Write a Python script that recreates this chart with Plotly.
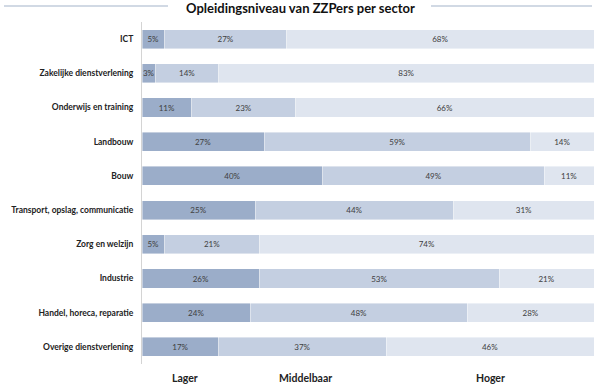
import plotly.graph_objects as go

sectors = ["ICT", "Zakelijke dienstverlening", "Onderwijs en training", "Landbouw", "Bouw",
           "Transport, opslag, communicatie", "Zorg en welzijn", "Industrie",
           "Handel, horeca, reparatie", "Overige dienstverlening"]
lager = [5, 3, 11, 27, 40, 25, 5, 26, 24, 17]
middelbaar = [27, 14, 23, 59, 49, 44, 21, 53, 48, 37]
hoger = [68, 83, 66, 14, 11, 31, 74, 21, 28, 46]
series_names = ["Lager", "Middelbaar", "Hoger"]
colors = ["#9badc9", "#c4cfe1", "#dfe5ef"]

FONT = "Lato"
fig = go.Figure()
for name, vals, col in zip(series_names, [lager, middelbaar, hoger], colors):
    fig.add_trace(go.Bar(
        y=sectors, x=vals, name=name, orientation="h",
        marker=dict(color=col, line=dict(color="rgba(255,255,255,0.7)", width=0.6)),
        width=0.56,
        text=[f"{v}%" for v in vals], textposition="inside", insidetextanchor="middle",
        textangle=0,
        textfont=dict(family=FONT, size=8, color="#404040"),
        constraintext="none", showlegend=False,
    ))

fig.update_layout(
    barmode="stack", width=600, height=387,
    margin=dict(l=142, r=6, t=22, b=23),
    paper_bgcolor="white", plot_bgcolor="white",
    uniformtext=dict(minsize=8, mode="show"),
    xaxis=dict(range=[0, 100], showgrid=False, showticklabels=False, zeroline=False, showline=False),
    yaxis=dict(autorange="reversed", showgrid=False, showline=True, linecolor="#d4d4d4", linewidth=1,
               ticks="", ticklabelstandoff=6,
               tickfont=dict(family=FONT, size=8.5, color="#222222", weight="bold")),
    font=dict(family=FONT),
)

# title with decorative lines
fig.add_annotation(text="<b>Opleidingsniveau van ZZPers per sector</b>", xref="paper", yref="paper",
                   x=(300 - 142) / 452, y=(364 - 8) / 342, showarrow=False,
                   font=dict(family=FONT, size=13, color="#111111"), xanchor="center", yanchor="middle")
for x0, x1 in [(4, 168), (431, 592)]:
    fig.add_shape(type="line", xref="paper", yref="paper", layer="above",
                  x0=(x0 - 142) / 452, x1=(x1 - 142) / 452, y0=(364 - 6) / 342, y1=(364 - 6) / 342,
                  line=dict(color="#a3b3c9", width=1.2))

# bottom category labels
for name, px in zip(series_names, [185, 305, 490]):
    fig.add_annotation(text=f"<b>{name}</b>", xref="paper", yref="paper",
                       x=(px - 142) / 452, y=(364 - 378) / 342, showarrow=False,
                       font=dict(family=FONT, size=10.5, color="#222222"), xanchor="center", yanchor="middle")

fig.write_html("out.html", post_script="document.body.style.margin='0';",
               config={"displayModeBar": False})
